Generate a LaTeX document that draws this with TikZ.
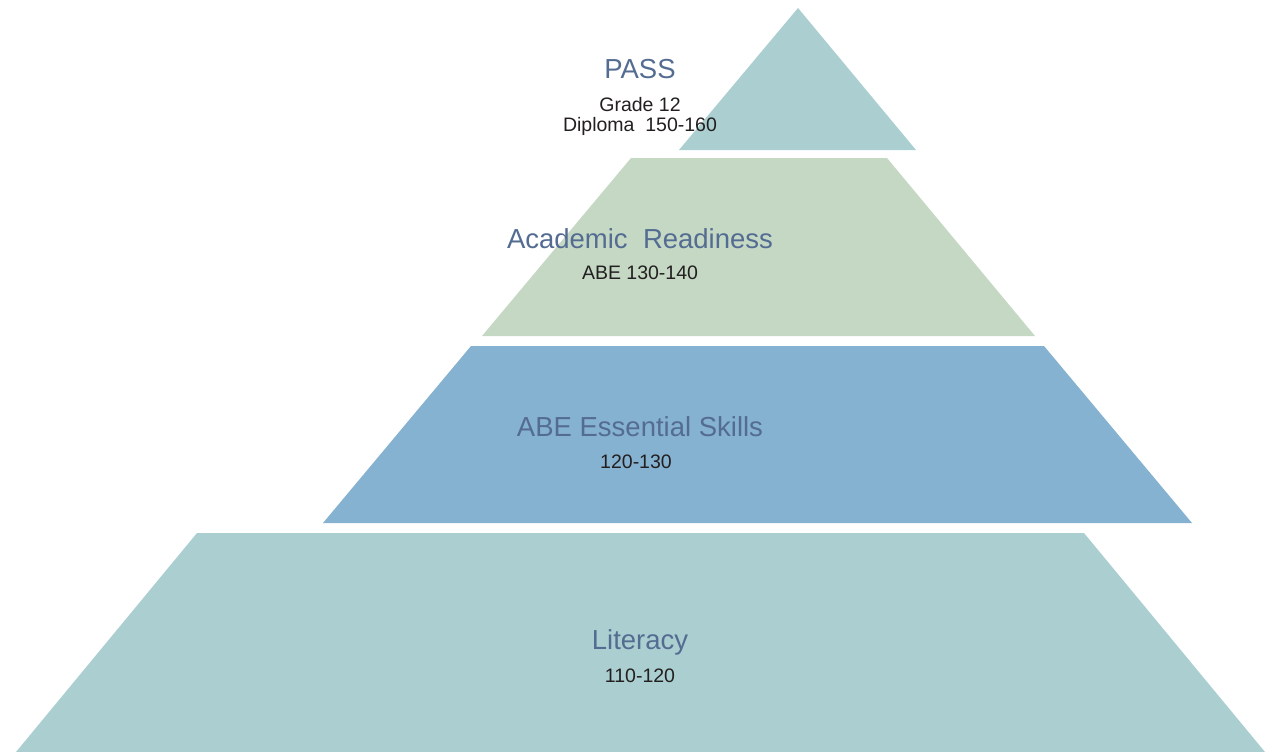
\documentclass[tikz,border=0pt]{standalone}
\usepackage{fontspec}
\setmainfont{Liberation Sans}
\definecolor{tealfill}{RGB}{171,207,208}
\definecolor{greenfill}{RGB}{196,216,196}
\definecolor{bluefill}{RGB}{134,178,209}
\definecolor{titleblue}{RGB}{84,108,146}
\definecolor{notegray}{RGB}{35,31,32}
\tikzset{title/.style = {anchor=base, inner sep=0pt, text=titleblue,
                         font=\fontsize{27.5}{32}\selectfont},
         note/.style = {anchor=base, inner sep=0pt, text=notegray,
                        font=\fontsize{19.5}{23}\selectfont}}

\begin{document}
\begin{tikzpicture}[x=1pt, y=-1pt]
      \useasboundingbox (0, 0) rectangle (1267, 752);
      \fill [tealfill] (798, 8) -- (916, 150) -- (679, 150) -- cycle;
      \fill [greenfill] (631, 158) -- (887, 158) -- (1035, 336) -- (482, 336) -- cycle;
      \fill [bluefill] (471, 346) -- (1044, 346) -- (1192, 523) -- (323, 523) -- cycle;
      \fill [tealfill] (197, 533) -- (1084, 533) -- (1265, 752) -- (16, 752) -- cycle;
      \node [title] (pass) at (640, 79) {PASS};
      \node [note] (grade) at (640, 111) {Grade 12};
      \node [note] (diploma) at (640, 131) {Diploma\ \ 150-160};
      \node [title] (academic) at (640, 248) {Academic\ \ Readiness};
      \node [note] (abeacad) at (640, 279) {ABE 130-140};
      \node [title] (essential) at (640, 436) {ABE Essential Skills};
      \node [note] (abeess) at (636, 468) {120-130};
      \node [title] (literacy) at (640, 649) {Literacy};
      \node [note] (abelit) at (640, 682) {110-120};
    \end{tikzpicture}
\end{document}
